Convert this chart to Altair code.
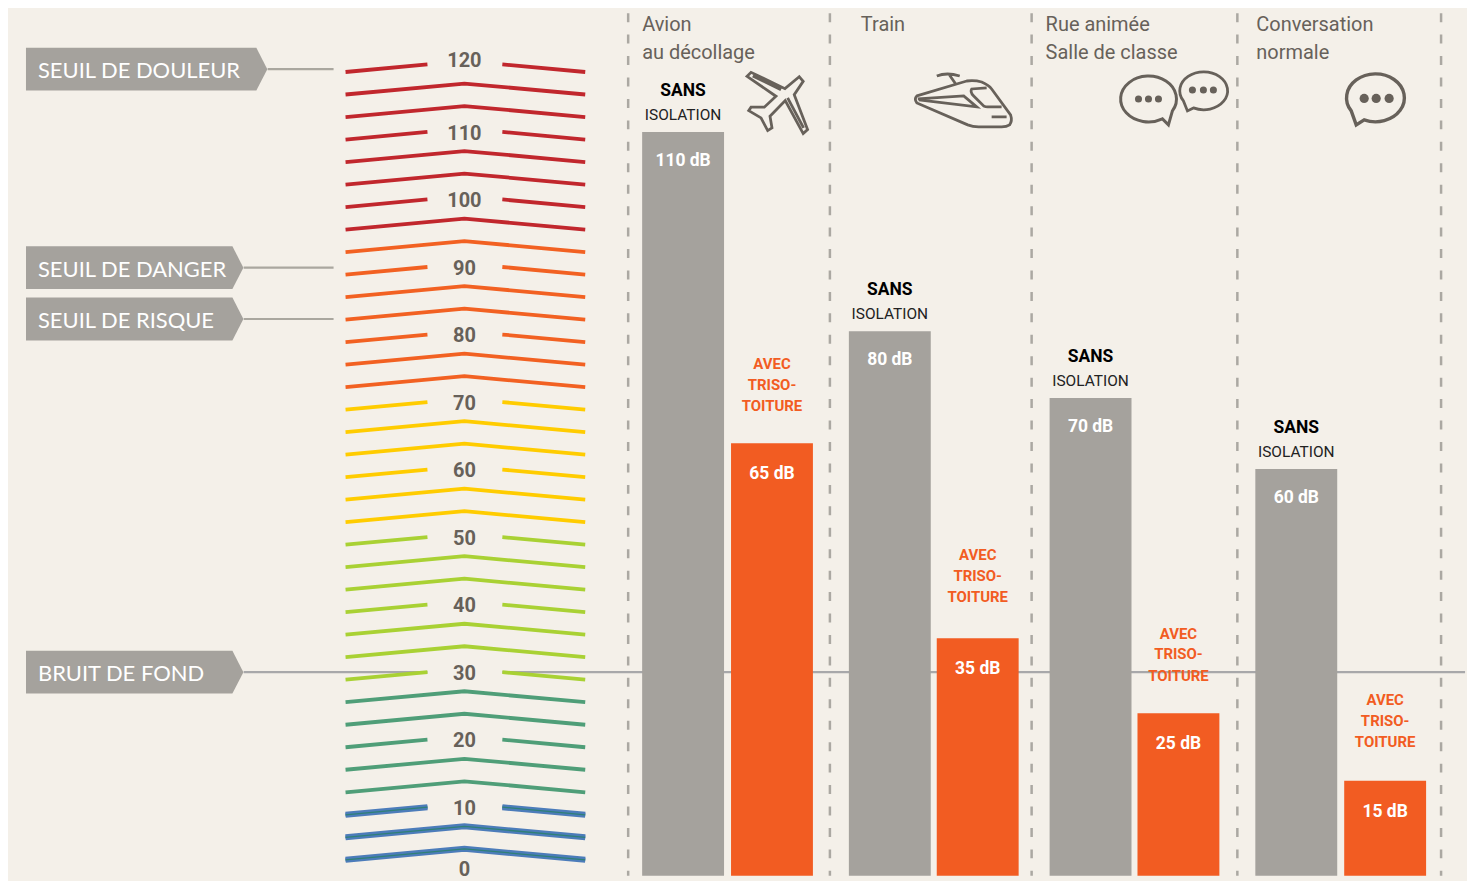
import altair as alt
import pandas as pd

# ---------- data ----------
SOURCES = ["Avion", "Train", "Rue animée", "Conversation"]
LABELS_SANS = ["110 dB", "80 dB", "70 dB", "60 dB"]
LABELS_AVEC = ["65 dB", "35 dB", "25 dB", "15 dB"]
TOPS_SANS = [109.5, 80.0, 70.1, 59.6]      # bar tops read on the picture's dB ladder
TOPS_AVEC = [63.4, 34.5, 23.4, 13.4]
HEADERS = [["Avion", "au décollage"], ["Train"], ["Rue animée", "Salle de classe"], ["Conversation", "normale"]]
TICKS = [120, 110, 100, 90, 80, 70, 60, 50, 40, 30, 20, 10, 0]
BANDS = [("red", 8), ("orange", 7), ("yellow", 6), ("lime", 7), ("green", 5), ("blue", 3)]
THRESHOLDS = ["SEUIL DE DOULEUR", "SEUIL DE DANGER", "SEUIL DE RISQUE", "BRUIT DE FOND"]
THRESHOLD_DB = [118.8, 89.4, 81.8, 29.5]

# ---------- layout / style ----------
W, H = 1459, 869
BG = "#F4F0E9"
GREY = "#A5A29D"
ORANGE = "#F25C22"
DARK = "#67615A"
FONT = "Roboto, sans-serif"
PX_PER_DB = 6.771
DB_ZERO_PX = 872.5
xs = alt.Scale(domain=[8, 8 + W / 1.0014], range=[0, W], nice=False, zero=False)
ys = alt.Scale(domain=[(DB_ZERO_PX - (8 + H)) / PX_PER_DB, (DB_ZERO_PX - 8) / PX_PER_DB], nice=False, zero=False)
X = alt.X("x:Q", scale=xs, axis=None)
Y = alt.Y("y:Q", scale=ys, axis=None)
SANS_X = [684, 891, 1092, 1298]
AVEC_X = [773, 979, 1180, 1387]
BAR_W = 82
HEADER_X = [643, 862, 1047, 1258]
DIVIDERS = [629, 831, 1033, 1239, 1443]
COLORS = ["#C1272D", "#F26122", "#FFCC00", "#A9D134", "#4F9E78", "#4A79B5"]
def px2db(px):
    return (DB_ZERO_PX - px) / PX_PER_DB
BASE = px2db(8 + H)

# ---------- ladder ----------
rows = []
band_list = [b for b, n in BANDS for _ in range(n)]
RISE = 11 / PX_PER_DB
GAP_RISE = 3.4 / PX_PER_DB
for i, band in enumerate(band_list):
    lvl = 120 - i * 10 / 3
    if i % 3 == 0:
        segs = [[(346, lvl - RISE), (428, lvl - GAP_RISE)], [(503, lvl - GAP_RISE), (586, lvl - RISE)]]
    else:
        segs = [[(346, lvl - RISE), (465, lvl), (586, lvl - RISE)]]
    for s, seg in enumerate(segs):
        for o, (x, y) in enumerate(seg):
            rows.append(dict(id=f"{i}-{s}", o=o, x=x, y=y, band=band))
ladder = pd.DataFrame(rows)
band_scale = alt.Scale(domain=[b for b, _ in BANDS], range=COLORS)
ladder_main = alt.Chart(ladder).mark_line(strokeWidth=3.8, strokeCap="butt", strokeJoin="miter").encode(
    x=X, y=Y, detail="id:N", order="o:Q", color=alt.Color("band:N", scale=band_scale, legend=None))
blue = ladder[ladder.band == "blue"]
ladder_blue = alt.Chart(blue).mark_line(strokeWidth=1.3, stroke="#2F8076", strokeCap="butt", strokeJoin="miter").encode(
    x=X, y=Y, detail="id:N", order="o:Q")
ladder_blue_edge = alt.Chart(blue).mark_line(strokeWidth=6, stroke="#4C7CBA", strokeCap="butt", strokeJoin="miter").encode(
    x=X, y=Y, detail="id:N", order="o:Q")

TICK_PX_OFFSET = {120: -1, 0: -2.5}
tick_df = pd.DataFrame({"t": [str(t) for t in TICKS],
                        "x": 465,
                        "y": [t - TICK_PX_OFFSET.get(t, 4) / PX_PER_DB for t in TICKS]})
ticks = alt.Chart(tick_df).mark_text(font=FONT, fontSize=20, fontWeight="bold", color=DARK, align="center", baseline="middle", dy=1).encode(x=X, y=Y, text="t:N")

# ---------- dividers ----------
div = alt.Chart(pd.DataFrame({"x": DIVIDERS})).mark_rule(stroke="#ABA8A2", strokeWidth=2.5, strokeDash=[9, 12.5]).encode(
    x=X, y=alt.value(4), y2=alt.value(H))

# ---------- threshold callouts ----------
ARROW_W = [231, 207, 207, 207]
thr_df = pd.DataFrame({"t": THRESHOLDS, "y": THRESHOLD_DB, "tx": 38})
callouts = []
for name, db, w in zip(THRESHOLDS, THRESHOLD_DB, ARROW_W):
    path = f"M0 -21.5L{w} -21.5L{w+11} 0L{w} 21.5L0 21.5Z"
    d = pd.DataFrame({"x": [26], "y": [db]})
    callouts.append(alt.Chart(d).mark_point(shape=path, size=4, filled=True, fill=GREY, opacity=1).encode(x=X, y=Y))
thr_text = alt.Chart(thr_df).mark_text(font="Lato, sans-serif", fontSize=22, color="white", align="left", baseline="middle", dy=2).encode(
    x=alt.X("tx:Q", scale=xs, axis=None), y=Y, text="t:N")
leaders = pd.DataFrame({"x": [268, 244, 244, 244, 503], "x2": [334, 334, 334, 428, 1467],
                        "y": [THRESHOLD_DB[0], THRESHOLD_DB[1], THRESHOLD_DB[2], THRESHOLD_DB[3], THRESHOLD_DB[3]],
                        "c": ["#AAA79F", "#AAA79F", "#AAA79F", "#A8A8AA", "#A8A8AA"]})
leader_rules = alt.Chart(leaders).mark_rule(strokeWidth=2.2).encode(
    x=X, x2="x2:Q", y=Y, color=alt.Color("c:N", scale=None))

# ---------- bars ----------
bars = pd.DataFrame({
    "x": [c - BAR_W / 2 for c in SANS_X + AVEC_X],
    "x2": [c + BAR_W / 2 for c in SANS_X + AVEC_X],
    "y": TOPS_SANS + TOPS_AVEC,
    "y2": [BASE] * 8,
    "c": [GREY] * 4 + [ORANGE] * 4,
})
bar_layer = alt.Chart(bars).mark_rect().encode(x=X, x2="x2:Q", y=Y, y2="y2:Q", color=alt.Color("c:N", scale=None))

VAL_OFF = [29] * 4 + [31] * 4
val_df = pd.DataFrame({"x": SANS_X + AVEC_X, "t": LABELS_SANS + LABELS_AVEC,
                       "y": [v - o / PX_PER_DB for v, o in zip(TOPS_SANS + TOPS_AVEC, VAL_OFF)]})
val_text = alt.Chart(val_df).mark_text(font=FONT, fontSize=17.5, fontWeight="bold", color="white", align="center", baseline="middle").encode(x=X, y=Y, text="t:N")

sans_rows, iso_rows, avec_rows = [], [], []
for x, top in zip(SANS_X, TOPS_SANS):
    sans_rows.append(dict(x=x, y=top + 41 / PX_PER_DB, t="SANS"))
    iso_rows.append(dict(x=x, y=top + 17 / PX_PER_DB, t="ISOLATION"))
AVEC_OFF = [(79, 58, 37), (84, 63, 41), (80, 59, 37), (81, 60, 39)]
for x, top, off in zip(AVEC_X, TOPS_AVEC, AVEC_OFF):
    for line, o in zip(["AVEC", "TRISO-", "TOITURE"], off):
        avec_rows.append(dict(x=x, y=top + o / PX_PER_DB, t=line))
sans_text = alt.Chart(pd.DataFrame(sans_rows)).mark_text(font=FONT, fontSize=17.5, fontWeight="bold", color="black", baseline="middle").encode(x=X, y=Y, text="t:N")
iso_text = alt.Chart(pd.DataFrame(iso_rows)).mark_text(font=FONT, fontSize=15.5, color="#222222", baseline="middle").encode(x=X, y=Y, text="t:N")
avec_text = alt.Chart(pd.DataFrame(avec_rows)).mark_text(font=FONT, fontSize=15, fontWeight="bold", color=ORANGE, baseline="middle").encode(x=X, y=Y, text="t:N")

# ---------- column headers ----------
hdr_rows = []
for x, lines in zip(HEADER_X, HEADERS):
    for j, line in enumerate(lines):
        hdr_rows.append(dict(x=x, y=px2db(24 + j * 27.5), t=line))
hdr_text = alt.Chart(pd.DataFrame(hdr_rows)).mark_text(font=FONT, fontSize=20, color=DARK, align="left", baseline="middle").encode(x=X, y=Y, text="t:N")

# ---------- icons (drawn 1:1 in pixels around their anchor; size=4 means 1 unit = 1 px) ----------
def poly(points, ox, oy, close=True):
    return "M" + "L".join(f"{(a-ox)/3:.1f} {(b-oy)/3:.1f}" for a, b in points) + ("Z" if close else "")

PLANE = poly([(540, 226), (497, 262), (395, 213), (383, 225), (470, 285), (435, 318), (395, 318), (388, 328),
              (425, 350), (445, 388), (458, 380), (452, 345), (498, 298), (552, 397), (565, 385), (525, 280), (552, 240)], 470, 305)
PLANE += poly([(400, 224), (485, 265)], 470, 305, False) + poly([(505, 290), (553, 380)], 470, 305, False)
TRAIN = ("M-47 -5L3 -20Q11 -21 18 -19Q25 -16 28 -12L47 14Q49 20 46 24Q43 26 38 26L15 26Q9 26 4 24L-47 2Q-50 -2 -47 -5Z"
         "M-46 -2L0 -5L13 6L-45 -1"
         "M23 -13L8 -12Q6 -9 10 -5L20 5Q22 6 24 6L38 6"
         "M28 16L43 16"
         "M-27 -25Q-17 -29 -4 -25M-15 -27L-8 -17")
def bubble(rx, ry, a, b, tx, ty):
    # a = start on ellipse, b = end on ellipse, tail tip (tx, ty)
    return f"M{a[0]} {a[1]}A{rx} {ry} 0 1 1 {b[0]} {b[1]}L{tx} {ty}Z"
BUB_A = bubble(28, 23, (14, 20), (24, 12), 20, 26)
BUB_B = bubble(24, 19, (-20, 11), (-10, 18), -16, 21)
BUB_C = bubble(29, 24, (-25, 13), (-12, 22), -20, 27)
icons = [(PLANE, 777, 102, 2.8), (TRAIN, 965, 100, 2.8), (BUB_A, 1150, 98, 3), (BUB_B, 1205, 89, 2.8), (BUB_C, 1378, 97, 3.4)]
icon_layers = [alt.Chart(pd.DataFrame({"x": [x], "y": [px2db(y)]})).mark_point(
    shape=p, size=4, filled=False, stroke=DARK, strokeWidth=sw, opacity=1).encode(x=X, y=Y) for p, x, y, sw in icons]
DOTS = pd.DataFrame({
    "x": [1140, 1150, 1160, 1194, 1205, 1215, 1366, 1378, 1391],
    "y": [px2db(v) for v in [98, 98, 98, 89, 89, 89, 97.5, 97.5, 97.5]],
    "s": [50, 50, 50, 50, 50, 50, 85, 85, 85]})
dot_layer = alt.Chart(DOTS).mark_circle(color=DARK, opacity=1).encode(x=X, y=Y, size=alt.Size("s:Q", scale=None))

chart = alt.layer(
    div, leader_rules, *callouts, thr_text, ladder_main, ladder_blue_edge, ladder_blue, ticks,
    bar_layer, val_text, sans_text, iso_text, avec_text, hdr_text, *icon_layers, dot_layer
).properties(width=W, height=H, padding=0, background=BG).configure_view(stroke=None)

chart.save("out.html", embed_options={"renderer": "svg", "actions": False})
